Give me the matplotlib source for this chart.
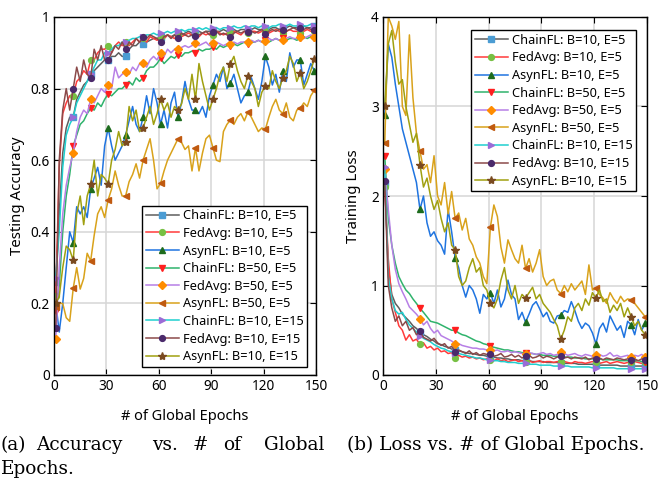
import matplotlib
matplotlib.use('Agg')
import matplotlib.pyplot as plt

# global epochs (every second epoch is kept)
epochs = list(range(1, 150, 2))

labels = ['ChainFL: B=10, E=5', 'FedAvg: B=10, E=5', 'AsynFL: B=10, E=5',
          'ChainFL: B=50, E=5', 'FedAvg: B=50, E=5', 'AsynFL: B=50, E=5',
          'ChainFL: B=10, E=15', 'FedAvg: B=10, E=15', 'AsynFL: B=10, E=15']

# testing accuracy
acc_chain_10_5 = [0.26, 0.45, 0.62, 0.69, 0.72, 0.72, 0.77, 0.79, 0.81, 0.82,
                  0.84, 0.85, 0.86, 0.87, 0.88, 0.88, 0.89, 0.89, 0.90, 0.89,
                  0.89, 0.91, 0.92, 0.92, 0.93, 0.925, 0.93, 0.935, 0.94, 0.94,
                  0.945, 0.94, 0.95, 0.945, 0.95, 0.955, 0.95, 0.955, 0.96, 0.955,
                  0.955, 0.96, 0.955, 0.96, 0.96, 0.965, 0.96, 0.96, 0.965, 0.96,
                  0.96, 0.965, 0.96, 0.965, 0.965, 0.96, 0.965, 0.97, 0.965, 0.965,
                  0.97, 0.965, 0.97, 0.97, 0.965, 0.97, 0.97, 0.975, 0.97, 0.97,
                  0.97, 0.975, 0.97, 0.97, 0.975]
acc_fedavg_10_5 = [0.22, 0.58, 0.73, 0.76, 0.78, 0.78, 0.82, 0.83, 0.85, 0.84,
                   0.88, 0.88, 0.90, 0.91, 0.91, 0.92, 0.90, 0.92, 0.93, 0.92,
                   0.93, 0.92, 0.93, 0.94, 0.93, 0.94, 0.93, 0.945, 0.94, 0.935,
                   0.945, 0.94, 0.95, 0.945, 0.94, 0.95, 0.945, 0.95, 0.955, 0.95,
                   0.95, 0.945, 0.955, 0.95, 0.955, 0.95, 0.96, 0.955, 0.95, 0.955,
                   0.955, 0.96, 0.955, 0.95, 0.96, 0.955, 0.96, 0.96, 0.955, 0.96,
                   0.96, 0.955, 0.96, 0.965, 0.96, 0.955, 0.96, 0.965, 0.96, 0.96,
                   0.955, 0.96, 0.965, 0.96, 0.96]
acc_asyn_10_5 = [0.20, 0.12, 0.20, 0.30, 0.40, 0.37, 0.47, 0.45, 0.47, 0.44,
                 0.52, 0.55, 0.58, 0.53, 0.64, 0.69, 0.64, 0.60, 0.62, 0.64,
                 0.67, 0.71, 0.75, 0.70, 0.68, 0.72, 0.78, 0.73, 0.80, 0.76,
                 0.70, 0.74, 0.69, 0.76, 0.79, 0.72, 0.76, 0.82, 0.77, 0.74,
                 0.74, 0.73, 0.75, 0.72, 0.78, 0.81, 0.84, 0.82, 0.86, 0.80,
                 0.815, 0.84, 0.80, 0.76, 0.78, 0.79, 0.83, 0.80, 0.77, 0.82,
                 0.89, 0.86, 0.81, 0.84, 0.79, 0.85, 0.82, 0.90, 0.86, 0.88,
                 0.88, 0.81, 0.84, 0.87, 0.85]
acc_chain_50_5 = [0.18, 0.25, 0.40, 0.50, 0.56, 0.64, 0.67, 0.70, 0.71, 0.73,
                  0.745, 0.74, 0.76, 0.75, 0.77, 0.785, 0.78, 0.79, 0.80, 0.80,
                  0.81, 0.82, 0.81, 0.83, 0.82, 0.83, 0.85, 0.86, 0.86, 0.87,
                  0.885, 0.87, 0.88, 0.89, 0.885, 0.895, 0.89, 0.90, 0.90, 0.905,
                  0.90, 0.91, 0.905, 0.91, 0.91, 0.915, 0.91, 0.92, 0.915, 0.92,
                  0.92, 0.925, 0.92, 0.925, 0.93, 0.925, 0.93, 0.93, 0.935, 0.93,
                  0.935, 0.93, 0.935, 0.94, 0.935, 0.94, 0.935, 0.94, 0.94, 0.935,
                  0.94, 0.945, 0.94, 0.945, 0.94]
acc_fedavg_50_5 = [0.10, 0.30, 0.45, 0.53, 0.58, 0.62, 0.68, 0.72, 0.74, 0.73,
                   0.77, 0.76, 0.78, 0.80, 0.79, 0.81, 0.80, 0.86, 0.83, 0.84,
                   0.847, 0.84, 0.86, 0.85, 0.87, 0.872, 0.86, 0.88, 0.89, 0.88,
                   0.90, 0.89, 0.91, 0.90, 0.91, 0.912, 0.915, 0.92, 0.915, 0.92,
                   0.926, 0.92, 0.925, 0.93, 0.92, 0.926, 0.93, 0.925, 0.92, 0.925,
                   0.925, 0.93, 0.925, 0.93, 0.93, 0.93, 0.935, 0.93, 0.935, 0.93,
                   0.934, 0.94, 0.935, 0.94, 0.935, 0.935, 0.94, 0.945, 0.94, 0.94,
                   0.945, 0.94, 0.945, 0.95, 0.945]
acc_asyn_50_5 = [0.19, 0.20, 0.20, 0.16, 0.15, 0.242, 0.30, 0.24, 0.27, 0.34,
                 0.319, 0.39, 0.45, 0.47, 0.44, 0.489, 0.52, 0.57, 0.53, 0.50,
                 0.50, 0.54, 0.56, 0.59, 0.55, 0.60, 0.63, 0.66, 0.60, 0.52,
                 0.535, 0.57, 0.60, 0.62, 0.64, 0.66, 0.65, 0.63, 0.64, 0.57,
                 0.635, 0.57, 0.62, 0.66, 0.67, 0.635, 0.60, 0.596, 0.68, 0.70,
                 0.712, 0.70, 0.72, 0.73, 0.71, 0.735, 0.72, 0.70, 0.68, 0.69,
                 0.686, 0.72, 0.75, 0.77, 0.74, 0.73, 0.76, 0.72, 0.71, 0.74,
                 0.745, 0.76, 0.75, 0.78, 0.795]
acc_chain_10_15 = [0.27, 0.40, 0.58, 0.67, 0.70, 0.72, 0.76, 0.78, 0.80, 0.82,
                   0.84, 0.86, 0.88, 0.88, 0.90, 0.90, 0.91, 0.92, 0.92, 0.93,
                   0.93, 0.935, 0.94, 0.94, 0.945, 0.945, 0.95, 0.95, 0.955, 0.95,
                   0.955, 0.955, 0.96, 0.955, 0.96, 0.96, 0.965, 0.96, 0.965, 0.965,
                   0.965, 0.97, 0.965, 0.97, 0.965, 0.97, 0.97, 0.965, 0.97, 0.97,
                   0.97, 0.975, 0.97, 0.97, 0.975, 0.97, 0.975, 0.975, 0.97, 0.975,
                   0.975, 0.97, 0.975, 0.975, 0.98, 0.975, 0.975, 0.98, 0.975, 0.975,
                   0.98, 0.975, 0.975, 0.98, 0.975]
acc_fedavg_10_15 = [0.13, 0.60, 0.74, 0.80, 0.74, 0.80, 0.86, 0.82, 0.88, 0.84,
                    0.83, 0.91, 0.88, 0.92, 0.88, 0.88, 0.90, 0.92, 0.91, 0.93,
                    0.91, 0.93, 0.92, 0.94, 0.93, 0.943, 0.94, 0.95, 0.945, 0.94,
                    0.93, 0.945, 0.95, 0.94, 0.95, 0.94, 0.955, 0.95, 0.945, 0.95,
                    0.947, 0.95, 0.955, 0.96, 0.95, 0.957, 0.96, 0.95, 0.955, 0.95,
                    0.945, 0.955, 0.96, 0.955, 0.96, 0.957, 0.96, 0.955, 0.96, 0.965,
                    0.953, 0.96, 0.965, 0.96, 0.965, 0.964, 0.96, 0.965, 0.97, 0.965,
                    0.968, 0.965, 0.97, 0.965, 0.964]
acc_asyn_10_15 = [0.20, 0.22, 0.30, 0.36, 0.35, 0.32, 0.45, 0.50, 0.42, 0.50,
                  0.533, 0.60, 0.50, 0.56, 0.55, 0.533, 0.60, 0.63, 0.68, 0.64,
                  0.652, 0.75, 0.71, 0.74, 0.68, 0.69, 0.72, 0.75, 0.70, 0.73,
                  0.77, 0.74, 0.76, 0.72, 0.75, 0.74, 0.757, 0.80, 0.77, 0.84,
                  0.77, 0.87, 0.82, 0.78, 0.74, 0.77, 0.80, 0.84, 0.86, 0.82,
                  0.87, 0.89, 0.85, 0.82, 0.80, 0.836, 0.82, 0.80, 0.75, 0.79,
                  0.807, 0.80, 0.85, 0.82, 0.80, 0.831, 0.85, 0.89, 0.87, 0.82,
                  0.844, 0.80, 0.82, 0.85, 0.882]

# training loss
loss_chain_10_5 = [2.15, 1.20, 0.90, 0.80, 0.75, 0.68, 0.64, 0.60, 0.55, 0.52,
                   0.48, 0.45, 0.43, 0.40, 0.38, 0.35, 0.34, 0.32, 0.31, 0.29,
                   0.28, 0.27, 0.26, 0.25, 0.24, 0.24, 0.23, 0.22, 0.22, 0.21,
                   0.20, 0.20, 0.19, 0.19, 0.18, 0.18, 0.17, 0.17, 0.17, 0.16,
                   0.16, 0.16, 0.15, 0.15, 0.15, 0.15, 0.14, 0.14, 0.14, 0.14,
                   0.13, 0.13, 0.13, 0.13, 0.13, 0.12, 0.12, 0.12, 0.12, 0.12,
                   0.12, 0.11, 0.11, 0.11, 0.11, 0.11, 0.11, 0.10, 0.10, 0.10,
                   0.10, 0.10, 0.10, 0.10, 0.10]
loss_fedavg_10_5 = [2.10, 1.30, 0.85, 0.70, 0.55, 0.50, 0.39, 0.45, 0.38, 0.40,
                    0.343, 0.36, 0.30, 0.32, 0.28, 0.30, 0.26, 0.27, 0.24, 0.25,
                    0.185, 0.22, 0.20, 0.21, 0.19, 0.20, 0.18, 0.19, 0.17, 0.18,
                    0.17, 0.16, 0.18, 0.16, 0.17, 0.15, 0.16, 0.17, 0.15, 0.16,
                    0.15, 0.16, 0.14, 0.15, 0.16, 0.14, 0.15, 0.15, 0.14, 0.15,
                    0.14, 0.15, 0.14, 0.13, 0.15, 0.14, 0.14, 0.13, 0.14, 0.15,
                    0.14, 0.13, 0.14, 0.15, 0.13, 0.14, 0.15, 0.14, 0.13, 0.14,
                    0.14, 0.15, 0.14, 0.13, 0.14]
loss_asyn_10_5 = [2.90, 3.70, 3.55, 3.25, 3.00, 2.75, 2.60, 2.45, 2.30, 2.15,
                  1.85, 2.00, 1.70, 1.55, 1.60, 1.50, 1.45, 1.35, 1.85, 1.60,
                  1.31, 1.20, 1.00, 0.87, 1.00, 0.95, 0.85, 0.69, 0.90, 0.85,
                  0.92, 0.80, 0.95, 0.76, 0.85, 1.06, 0.90, 0.85, 0.62, 0.70,
                  0.59, 0.68, 0.78, 0.82, 0.74, 0.65, 0.70, 0.60, 0.58, 0.66,
                  0.67, 0.72, 0.70, 0.82, 0.72, 0.60, 0.52, 0.58, 0.55, 0.47,
                  0.35, 0.52, 0.58, 0.48, 0.66, 0.58, 0.50, 0.55, 0.42, 0.60,
                  0.56, 0.45, 0.62, 0.50, 0.58]
loss_chain_50_5 = [2.45, 1.75, 1.45, 1.25, 1.10, 1.02, 0.95, 0.91, 0.85, 0.80,
                   0.745, 0.70, 0.65, 0.60, 0.59, 0.58, 0.56, 0.54, 0.52, 0.50,
                   0.50, 0.47, 0.45, 0.44, 0.42, 0.40, 0.38, 0.37, 0.35, 0.34,
                   0.32, 0.31, 0.30, 0.29, 0.28, 0.28, 0.27, 0.26, 0.26, 0.25,
                   0.25, 0.24, 0.24, 0.23, 0.23, 0.22, 0.22, 0.22, 0.21, 0.21,
                   0.21, 0.20, 0.20, 0.20, 0.19, 0.19, 0.19, 0.18, 0.18, 0.18,
                   0.18, 0.18, 0.17, 0.17, 0.17, 0.17, 0.17, 0.16, 0.16, 0.16,
                   0.16, 0.16, 0.16, 0.15, 0.15]
loss_fedavg_50_5 = [2.30, 1.85, 1.45, 1.18, 1.02, 0.93, 0.85, 0.76, 0.72, 0.68,
                    0.63, 0.56, 0.60, 0.52, 0.47, 0.50, 0.44, 0.42, 0.40, 0.38,
                    0.35, 0.35, 0.33, 0.32, 0.31, 0.30, 0.30, 0.29, 0.29, 0.28,
                    0.28, 0.27, 0.28, 0.26, 0.26, 0.27, 0.25, 0.26, 0.25, 0.24,
                    0.235, 0.25, 0.24, 0.23, 0.24, 0.25, 0.23, 0.24, 0.22, 0.23,
                    0.26, 0.24, 0.22, 0.23, 0.24, 0.22, 0.21, 0.23, 0.22, 0.21,
                    0.22, 0.23, 0.21, 0.22, 0.25, 0.21, 0.22, 0.20, 0.21, 0.22,
                    0.20, 0.22, 0.21, 0.23, 0.20]
loss_asyn_50_5 = [2.59, 4.00, 3.90, 3.75, 3.95, 3.00, 2.90, 3.80, 3.10, 2.70,
                  2.50, 2.30, 2.35, 2.15, 2.45, 2.00, 1.90, 2.15, 1.80, 2.05,
                  1.75, 1.81, 1.62, 1.75, 1.52, 1.45, 1.32, 1.25, 1.10, 1.02,
                  1.65, 1.90, 1.77, 1.43, 1.25, 1.51, 1.40, 1.30, 1.25, 1.45,
                  1.19, 1.30, 1.15, 1.25, 1.40, 1.10, 1.00, 1.05, 1.07, 0.95,
                  0.91, 1.00, 0.93, 1.02, 0.95, 1.00, 1.05, 0.90, 1.23, 0.95,
                  0.97, 0.90, 0.86, 0.80, 0.92, 0.85, 0.80, 0.88, 0.82, 0.85,
                  0.84, 0.80, 0.75, 0.70, 0.65]
loss_chain_10_15 = [2.32, 1.10, 0.85, 0.72, 0.68, 0.70, 0.62, 0.56, 0.52, 0.48,
                    0.44, 0.41, 0.39, 0.37, 0.34, 0.32, 0.30, 0.29, 0.27, 0.26,
                    0.25, 0.24, 0.23, 0.22, 0.21, 0.20, 0.19, 0.19, 0.18, 0.17,
                    0.17, 0.16, 0.16, 0.15, 0.15, 0.14, 0.14, 0.14, 0.13, 0.13,
                    0.13, 0.12, 0.12, 0.12, 0.11, 0.11, 0.11, 0.11, 0.10, 0.10,
                    0.10, 0.10, 0.10, 0.09, 0.09, 0.09, 0.09, 0.09, 0.09, 0.08,
                    0.08, 0.08, 0.08, 0.08, 0.08, 0.08, 0.07, 0.07, 0.07, 0.07,
                    0.07, 0.07, 0.07, 0.07, 0.07]
loss_fedavg_10_15 = [2.17, 1.00, 0.75, 0.60, 0.66, 0.55, 0.60, 0.50, 0.53, 0.45,
                     0.49, 0.42, 0.40, 0.38, 0.41, 0.36, 0.33, 0.35, 0.30, 0.32,
                     0.26, 0.28, 0.26, 0.24, 0.27, 0.23, 0.25, 0.22, 0.24, 0.23,
                     0.24, 0.21, 0.22, 0.24, 0.20, 0.21, 0.23, 0.20, 0.22, 0.19,
                     0.21, 0.22, 0.19, 0.20, 0.22, 0.19, 0.21, 0.20, 0.18, 0.20,
                     0.21, 0.19, 0.20, 0.18, 0.20, 0.19, 0.18, 0.20, 0.17, 0.19,
                     0.18, 0.19, 0.17, 0.19, 0.18, 0.17, 0.19, 0.18, 0.17, 0.18,
                     0.17, 0.18, 0.16, 0.18, 0.17]
loss_asyn_10_15 = [3.00, 3.70, 3.85, 3.50, 3.25, 3.30, 3.00, 2.80, 2.60, 2.70,
                   2.35, 2.10, 2.20, 2.00, 1.85, 1.95, 1.75, 1.60, 1.70, 1.45,
                   1.40, 1.10, 1.00, 1.05, 1.20, 1.30, 1.15, 1.20, 1.00, 0.95,
                   0.80, 0.75, 0.85, 1.06, 1.20, 0.95, 0.85, 1.00, 0.80, 0.90,
                   0.86, 0.92, 0.98, 0.85, 0.90, 0.80, 0.75, 0.70, 0.62, 0.55,
                   0.40, 0.50, 0.65, 0.60, 0.75, 0.80, 0.72, 0.85, 0.78, 0.92,
                   0.86, 0.95, 0.82, 0.85, 0.70, 0.78, 0.72, 0.80, 0.65, 0.75,
                   0.65, 0.55, 0.60, 0.50, 0.45]

acc_series = [acc_chain_10_5, acc_fedavg_10_5, acc_asyn_10_5,
              acc_chain_50_5, acc_fedavg_50_5, acc_asyn_50_5,
              acc_chain_10_15, acc_fedavg_10_15, acc_asyn_10_15]
loss_series = [loss_chain_10_5, loss_fedavg_10_5, loss_asyn_10_5,
               loss_chain_50_5, loss_fedavg_50_5, loss_asyn_50_5,
               loss_chain_10_15, loss_fedavg_10_15, loss_asyn_10_15]

# line colour, marker, marker colour
styles = [('#5e5e5e', 's', '#4b9cd3'),
          ('#ff3b3b', 'o', '#77c043'),
          ('#1f74e0', '^', '#1d6b1d'),
          ('#2fb36c', 'v', '#ff1f1f'),
          ('#b77fe6', 'D', '#ff8c00'),
          ('#d9a21b', '<', '#c05a10'),
          ('#1fcfcf', '>', '#9b6bd6'),
          ('#8b4a4a', 'o', '#4b2a6b'),
          ('#a0a010', '*', '#7a4a20')]

plt.rcParams['font.family'] = ['Noto Sans', 'DejaVu Sans']

W, H = 658, 479
fig = plt.figure(figsize=(W / 100, H / 100), dpi=100)
ax1 = fig.add_axes([54 / W, 104 / H, 262 / W, 358 / H])
ax2 = fig.add_axes([383 / W, 104 / H, 264 / W, 358 / H])


def draw(ax, series, every):
    for s, lab, (lc, mk, mc) in zip(series, labels, styles):
        ms = 4.2
        if mk == '*':
            ms = 6
        elif mk == 'D':
            ms = 3.8
        ax.plot(epochs, s, color=lc, lw=1.1, marker=mk, markersize=ms,
                markerfacecolor=mc, markeredgecolor=mc, markevery=every,
                label=lab)
    ax.set_xlim(0, 150)
    ax.set_xticks([0, 30, 60, 90, 120, 150])
    ax.grid(True, color='#d6d6d6', lw=1.1)
    ax.set_axisbelow(True)
    ax.tick_params(direction='in', top=True, right=True, length=4,
                   labelsize=9.8, pad=3)
    for sp in ax.spines.values():
        sp.set_linewidth(1.0)
    ax.set_xlabel('# of Global Epochs', fontsize=10.5, labelpad=11)


def legend(ax, loc, anchor):
    lg = ax.legend(loc=loc, bbox_to_anchor=anchor,
                   bbox_transform=fig.transFigure, fontsize=9.2,
                   frameon=True, fancybox=False, edgecolor='black',
                   framealpha=1, handlelength=2.6, labelspacing=0.36,
                   borderpad=0.3, handletextpad=0.3, borderaxespad=0)
    lg.get_frame().set_linewidth(1.0)


draw(ax1, acc_series, list(range(0, 75, 5)) + [74])
ax1.set_ylim(0, 1)
ax1.set_yticks([0, 0.2, 0.4, 0.6, 0.8, 1])
ax1.set_yticklabels(['0', '0.2', '0.4', '0.6', '0.8', '1'])
ax1.set_ylabel('Testing Accuracy', fontsize=10.8, labelpad=4)
legend(ax1, 'lower left', (142 / W, 1 - 367 / H))

draw(ax2, loss_series, list(range(0, 75, 10)) + [74])
ax2.set_ylim(0, 4)
ax2.set_yticks([0, 1, 2, 3, 4])
ax2.set_ylabel('Training Loss', fontsize=10.8, labelpad=7)
legend(ax2, 'upper left', (471 / W, 1 - 30 / H))

# sub-captions
cap = dict(family='DejaVu Serif', fontsize=13.3, va='baseline')
for word, px in [('(a)', 1), ('Accuracy', 36), ('vs.', 152), ('#', 193),
                 ('of', 223), ('Global', 264)]:
    fig.text(px / W, 1 - 450 / H, word, **cap)
fig.text(1 / W, 1 - 474 / H, 'Epochs.', **cap)
fig.text(347 / W, 1 - 450 / H, '(b) Loss vs. # of Global Epochs.', **cap)

fig.savefig('out.png', dpi=100)
